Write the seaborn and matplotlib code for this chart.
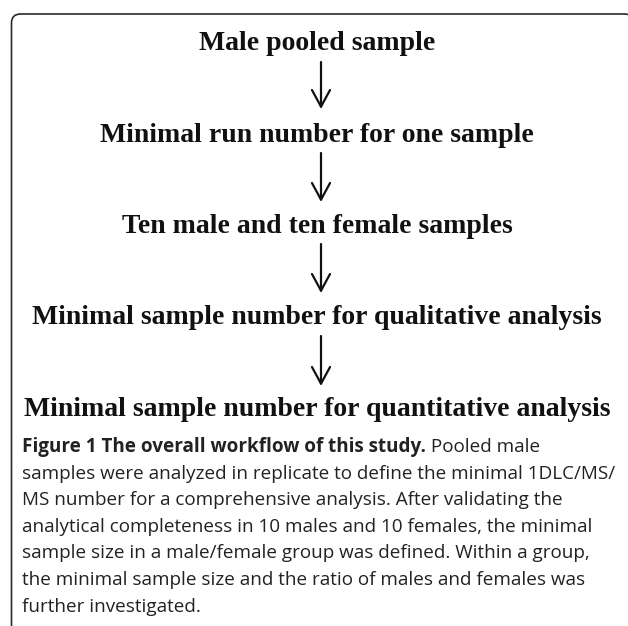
import matplotlib
matplotlib.use("Agg")
import matplotlib.pyplot as plt
import seaborn as sns
from matplotlib.patches import FancyBboxPatch

# ---- content ----
steps = [
    "Male pooled sample",
    "Minimal run number for one sample",
    "Ten male and ten female samples",
    "Minimal sample number for qualitative analysis",
    "Minimal sample number for quantitative analysis",
]
caption_bold = "Figure 1 The overall workflow of this study."
caption_lines = [
    " Pooled male",
    "samples were analyzed in replicate to define the minimal 1DLC/MS/",
    "MS number for a comprehensive analysis. After validating the",
    "analytical completeness in 10 males and 10 females, the minimal",
    "sample size in a male/female group was defined. Within a group,",
    "the minimal sample size and the ratio of males and females was",
    "further investigated.",
]

sns.set_theme(style="white")
W, H = 628, 626
fig = plt.figure(figsize=(W / 100, H / 100), dpi=100)
ax = fig.add_axes([0, 0, 1, 1])
ax.set_xlim(0, W)
ax.set_ylim(H, 0)
ax.axis("off")

# rounded frame, open at bottom/right
box = FancyBboxPatch((11.5, 14), 622, 700, boxstyle="round,pad=0,rounding_size=9",
                     fill=False, ec="#2a2a2a", lw=1.2)
ax.add_patch(box)

serif = "Liberation Serif"
baselines = [50, 142, 233, 324, 416]
arrows = [(62, 109), (153, 202), (244, 293), (336, 386)]
cx = 317
ax_x = 321
for s, y in zip(steps, baselines):
    ax.text(cx, y, s, ha="center", va="baseline", family=serif,
            fontweight="bold", fontsize=20.0, color="#111111")
for y0, y1 in arrows:
    ax.annotate("", xy=(ax_x, y1), xytext=(ax_x, y0),
                arrowprops=dict(arrowstyle="->,head_length=12,head_width=6.5",
                                mutation_scale=1, lw=1.6, color="#111111",
                                shrinkA=0, shrinkB=0))

sans = ["Open Sans", "DejaVu Sans"]
cap_x = 22
cap_y0 = 452
dy = 26.6
fs = 13.6
t = ax.text(cap_x, cap_y0, caption_bold, ha="left", va="baseline", family=sans,
            fontweight="bold", fontsize=fs, color="#222222")
fig.canvas.draw()
bb = t.get_window_extent(renderer=fig.canvas.get_renderer())
x_end = ax.transData.inverted().transform((bb.x1, bb.y0))[0]
ax.text(x_end, cap_y0, caption_lines[0], ha="left", va="baseline", family=sans,
        fontsize=fs, color="#222222")
for k, line in enumerate(caption_lines[1:], start=1):
    ax.text(cap_x, cap_y0 + k * dy, line, ha="left", va="baseline", family=sans,
            fontsize=fs, color="#222222")

fig.savefig("out.png", dpi=100, facecolor="white")
